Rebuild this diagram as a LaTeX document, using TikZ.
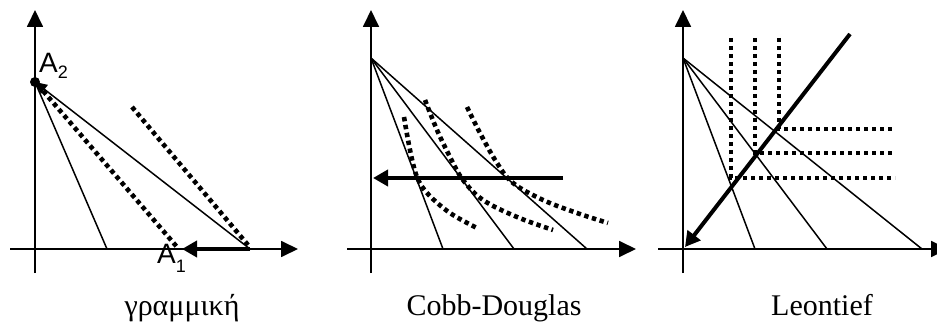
\documentclass[tikz,border=0pt]{standalone}
\usepackage{fontspec}
\setmainfont{Liberation Serif}
\newfontfamily\arialfont{Liberation Sans}
\usetikzlibrary{arrows.meta}
\begin{document}
\begin{tikzpicture}[x=1pt,y=-1pt,
  axis/.style={line width=1.8pt,-{Triangle[length=17pt,width=16pt]}},
  ray/.style={line width=1.5pt},
  dots/.style={line width=4.6pt,dash pattern=on 4.4pt off 3.6pt},
  bigarrow/.style={line width=4pt,-{Triangle[length=15pt,width=16pt]}},
  captext/.style={font=\fontsize{30}{36}\selectfont,anchor=base},
  alabel/.style={font=\arialfont\fontsize{28}{32}\selectfont,anchor=base west,inner sep=0pt}
]
\useasboundingbox (0,0) rectangle (937,323);
% ---------- panel 1 ----------
\draw[axis] (35,273) -- (35,10);
\draw[axis] (10,249) -- (298,249);
\coordinate (A2) at (35,82);
\coordinate (p1a) at (107,249);
\coordinate (p1b) at (250,249);
\coordinate (p1c) at (182,249);
\draw[ray] (A2) -- (p1a);
\draw[ray,-{Triangle[length=12pt,width=11pt]}] (p1b) -- (A2);
\fill (A2) circle (5);
\coordinate (d1s) at (38,85);  \coordinate (d1e) at (177,247);
\coordinate (d2s) at (132,107); \coordinate (d2e) at (248,245);
\draw[dots] (d1s) -- (d1e);
\draw[dots] (d2s) -- (d2e);
\draw[bigarrow] (p1b) -- (p1c);
\node[alabel] (la2) at (39,73) {A\raisebox{-6pt}{\fontsize{18}{18}\selectfont 2}};
\node[alabel] (la1) at (157,263) {A\raisebox{-9pt}{\fontsize{18}{18}\selectfont 1}};
\node[captext] (t1) at (182,315) {γραμμική};
% ---------- panel 2 ----------
\draw[axis] (371,273) -- (371,10);
\draw[axis] (347,249) -- (636,249);
\coordinate (B) at (371,58);
\coordinate (q1) at (443,249);
\coordinate (q2) at (514,249);
\coordinate (q3) at (587,249);
\draw[ray] (B) -- (q1);
\draw[ray] (B) -- (q2);
\draw[ray] (B) -- (q3);
\draw[dots] plot[smooth,tension=0.6] coordinates {(404,117) (410,150) (417,177) (428,194) (450,213) (477,228)};
\draw[dots] plot[smooth,tension=0.6] coordinates {(425,100) (437,130) (450,157) (463,180) (483,200) (517,217) (553,230)};
\draw[dots] plot[smooth,tension=0.6] coordinates {(467,107) (480,133) (497,163) (513,183) (543,200) (577,213) (608,223)};
\coordinate (m1) at (563,178);
\coordinate (m2) at (373,178);
\draw[bigarrow] (m1) -- (m2);
\node[captext] (t2) at (494,315) {Cobb-Douglas};
% ---------- panel 3 ----------
\draw[axis] (683,273) -- (683,10);
\draw[axis] (658,249) -- (948,249);
\coordinate (C) at (683,58);
\coordinate (r1) at (755,249);
\coordinate (r2) at (827,249);
\coordinate (r3) at (922,249);
\draw[ray] (C) -- (r1);
\draw[ray] (C) -- (r2);
\draw[ray] (C) -- (r3);
\draw[dots] (731,38) -- (731,178) -- (895,178);
\draw[dots] (755,38) -- (755,153) -- (895,153);
\draw[dots] (779,38) -- (779,129) -- (895,129);
\coordinate (n1) at (850,34);
\coordinate (n2) at (685,247);
\draw[bigarrow] (n1) -- (n2);
\node[captext] (t3) at (822,315) {Leontief};
\end{tikzpicture}
\end{document}
